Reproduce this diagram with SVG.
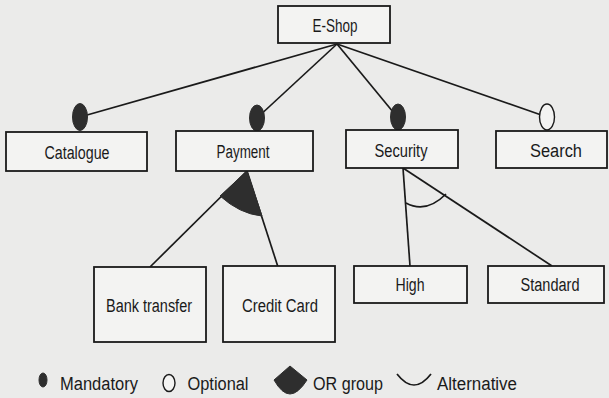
<svg xmlns="http://www.w3.org/2000/svg" width="609" height="398" viewBox="0 0 609 398">
<style>
.bg{fill:#ebebea}
.box{fill:#f3f3f2;stroke:#1a1a1a;stroke-width:1.8}
.lbl{font-family:"Liberation Sans",Arial,sans-serif;font-size:18px;fill:#1a1a1a;text-anchor:middle}
.ln{stroke:#1a1a1a;stroke-width:1.7;fill:none}
.mand{fill:#2e2e2e;stroke:#2e2e2e;stroke-width:1}
.opt{fill:#f3f3f2;stroke:#1a1a1a;stroke-width:1.4}
.grp{fill:#2e2e2e;stroke:#2e2e2e;stroke-width:1}
</style>
<rect class="bg" x="0" y="0" width="609" height="398"/>
<g id="connectors">
<line class="ln" x1="337" y1="44" x2="80" y2="117"/>
<line class="ln" x1="337" y1="44" x2="257" y2="118"/>
<line class="ln" x1="337" y1="44" x2="398" y2="118"/>
<line class="ln" x1="337" y1="44" x2="547" y2="117"/>
<line class="ln" x1="247" y1="171" x2="150" y2="267"/>
<line class="ln" x1="247" y1="171" x2="278" y2="267"/>
<line class="ln" x1="403" y1="168" x2="410" y2="266"/>
<line class="ln" x1="403" y1="168" x2="552" y2="266"/>
<path class="grp" d="M247 171 L220 196 Q240 214 262 216 Z"/>
<path class="ln" d="M406 203 Q426 214 446 194" stroke-width="1.4"/>
<ellipse class="mand" cx="80" cy="117" rx="7.5" ry="13.5"/>
<ellipse class="mand" cx="257" cy="118" rx="7.5" ry="13"/>
<ellipse class="mand" cx="398" cy="117" rx="7.5" ry="13"/>
<ellipse class="opt" cx="547" cy="117" rx="7.5" ry="13"/>
</g>
<g id="eshop"><rect class="box" x="278" y="6" width="112" height="37"/><text class="lbl" x="335" y="32" textLength="45" lengthAdjust="spacingAndGlyphs">E-Shop</text></g>
<g id="catalogue"><rect class="box" x="6" y="132" width="141" height="39"/><text class="lbl" x="77" y="159" textLength="65" lengthAdjust="spacingAndGlyphs">Catalogue</text></g>
<g id="payment"><rect class="box" x="176" y="131" width="137" height="40"/><text class="lbl" x="243" y="158" textLength="53" lengthAdjust="spacingAndGlyphs">Payment</text></g>
<g id="security"><rect class="box" x="346" y="130" width="112" height="38"/><text class="lbl" x="401" y="157" textLength="53" lengthAdjust="spacingAndGlyphs">Security</text></g>
<g id="search"><rect class="box" x="496" y="131" width="111" height="37"/><text class="lbl" x="556" y="157" textLength="52" lengthAdjust="spacingAndGlyphs">Search</text></g>
<g id="bank-transfer"><rect class="box" x="94" y="267" width="112" height="75"/><text class="lbl" x="149" y="312" textLength="86" lengthAdjust="spacingAndGlyphs">Bank transfer</text></g>
<g id="credit-card"><rect class="box" x="223" y="266" width="112" height="76"/><text class="lbl" x="280" y="312" textLength="76" lengthAdjust="spacingAndGlyphs">Credit Card</text></g>
<g id="high"><rect class="box" x="354" y="266" width="113" height="37"/><text class="lbl" x="410" y="291" textLength="29" lengthAdjust="spacingAndGlyphs">High</text></g>
<g id="standard"><rect class="box" x="488" y="266" width="116" height="37"/><text class="lbl" x="550" y="291" textLength="59" lengthAdjust="spacingAndGlyphs">Standard</text></g>
<g id="legend">
<ellipse class="mand" cx="43" cy="380" rx="4" ry="7"/>
<text class="lbl" x="99" y="390" textLength="78" lengthAdjust="spacingAndGlyphs">Mandatory</text>
<ellipse class="opt" cx="169" cy="383" rx="6" ry="8.5"/>
<text class="lbl" x="218" y="390" textLength="61" lengthAdjust="spacingAndGlyphs">Optional</text>
<path class="grp" d="M290 366 L307 380 Q298 394 290 394 Q282 394 274 380 Z"/>
<text class="lbl" x="348" y="390" textLength="70" lengthAdjust="spacingAndGlyphs">OR group</text>
<path class="ln" d="M397 374 Q414 396 431 374" stroke-width="1.4"/>
<text class="lbl" x="477" y="390" textLength="80" lengthAdjust="spacingAndGlyphs">Alternative</text>
</g>
</svg>
